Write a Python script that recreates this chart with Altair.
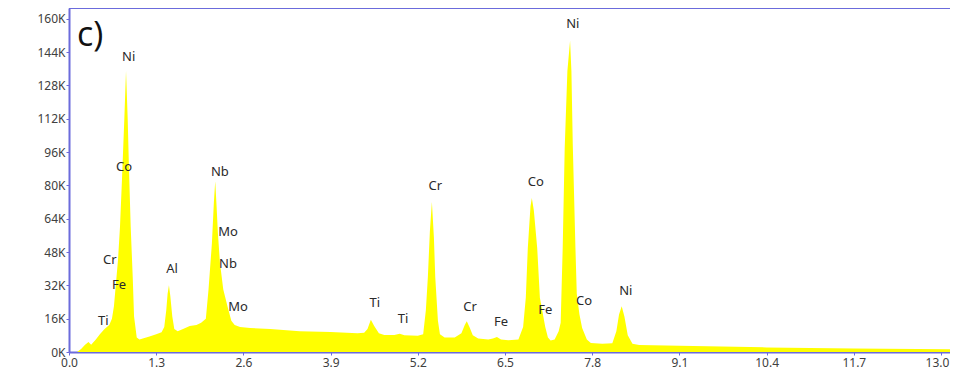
import altair as alt
import pandas as pd

# spectrum (energy keV, counts in thousands)
energy = [0.00, 0.12, 0.18, 0.24, 0.29, 0.33, 0.40, 0.46, 0.53, 0.60, 0.64, 0.67, 0.70, 0.73, 0.76,
          0.79, 0.825, 0.85, 0.875, 0.895, 0.92, 0.95, 0.97, 1.01, 1.05, 1.10, 1.20, 1.30, 1.38, 1.42,
          1.45, 1.47, 1.49, 1.51, 1.54, 1.57, 1.62, 1.70, 1.80, 1.90, 1.97, 2.04, 2.08, 2.13, 2.16,
          2.18, 2.20, 2.22, 2.25, 2.30, 2.37, 2.42, 2.47, 2.55, 2.70, 3.00, 3.44, 3.90, 4.30, 4.40,
          4.45, 4.50, 4.55, 4.62, 4.70, 4.85, 4.93, 5.00, 5.20, 5.28, 5.32, 5.35, 5.38, 5.41, 5.44,
          5.46, 5.50, 5.53, 5.60, 5.75, 5.85, 5.90, 5.93, 5.97, 6.02, 6.10, 6.25, 6.32, 6.38, 6.44,
          6.55, 6.70, 6.77, 6.81, 6.84, 6.88, 6.90, 6.93, 6.98, 7.02, 7.10, 7.14, 7.18, 7.24, 7.30,
          7.33, 7.36, 7.39, 7.43, 7.47, 7.49, 7.51, 7.55, 7.57, 7.61, 7.65, 7.72, 7.78, 7.95, 8.10,
          8.16, 8.20, 8.24, 8.28, 8.33, 8.40, 8.50, 9.10, 10.40, 11.70, 13.24]
kcounts = [0, 0, 1.5, 3.5, 4.8, 3.5, 6, 8.5, 11, 13, 16, 22, 33, 44, 60,
           83, 112, 135, 112, 87, 60, 36, 17, 7, 6, 6.5, 7.5, 8.5, 9.5, 12,
           20, 28, 32, 27, 17, 11, 10, 11, 12.5, 13, 14, 16, 30, 52, 72,
           82, 70, 57, 43, 30, 21, 15, 13, 12, 11.5, 11, 10, 9.6, 9, 9.2,
           11, 15.5, 12.5, 9, 8.2, 8.2, 8.8, 8, 7.8, 8.5, 20, 36, 58, 72, 55,
           36, 15, 8.5, 7, 7, 9, 13, 14.8, 12, 8, 6.5, 6, 6.5, 7.2, 6,
           5.7, 6, 12, 26, 50, 70, 74, 68, 50, 26, 12, 7, 5.5, 6, 10,
           14, 50, 98, 135, 149.5, 135, 100, 50, 28, 18, 11.5, 6, 4.3, 4, 4.2,
           10, 18, 22, 17, 8, 4, 3.4, 3, 2.2, 1.7, 1.3]

# peak labels
label_text = ["Ni", "Co", "Cr", "Fe", "Ti", "Al", "Nb", "Mo", "Nb", "Mo",
              "Ti", "Ti", "Cr", "Cr", "Fe", "Co", "Fe", "Ni", "Co", "Ni"]
label_energy = [0.89, 0.82, 0.61, 0.745, 0.51, 1.535, 2.25, 2.37, 2.37, 2.52,
                4.56, 4.98, 5.46, 5.98, 6.44, 6.96, 7.10, 7.51, 7.68, 8.30]
label_k = [141.5, 89, 44, 32, 14.8, 40, 86.5, 57.5, 42.5, 21.5,
           23.5, 16, 79.5, 21.5, 14.5, 81.5, 20, 157.5, 24.5, 29.5]

x_ticks = [0.0, 1.3, 2.6, 3.9, 5.2, 6.5, 7.8, 9.1, 10.4, 11.7, 13.0]
y_ticks = [0, 16, 32, 48, 64, 80, 96, 112, 128, 144, 160]

spec = pd.DataFrame({"energy": energy, "k": kcounts})
labels = pd.DataFrame({"label": label_text, "energy": label_energy, "k": label_k})

BLUE = "#6b6bdc"
W, H = 881, 344

xs = alt.Scale(domain=[0, 13.134], nice=False, zero=False)
ys = alt.Scale(domain=[0, 165.2], nice=False)

area = alt.Chart(spec).mark_area(color="#ffff00", interpolate="linear", opacity=1, clip=True).encode(
    x=alt.X("energy:Q", scale=xs,
            axis=alt.Axis(values=x_ticks, tickCount=len(x_ticks), format=".1f", title=None, grid=False,
                          domainColor=BLUE, domainWidth=2, tickColor=BLUE, tickSize=3,
                          labelFont="Noto Sans", labelFontSize=12, labelColor="#404040",
                          labelPadding=2, labelFlush=False, labelOverlap=False,
                          labelOffset={"condition": {"test": "datum.value >= 13", "value": -4},
                                       "value": 0})),
    y=alt.Y("k:Q", scale=ys,
            axis=alt.Axis(values=y_ticks, tickCount=len(y_ticks), labelExpr="datum.value + 'K'",
                          title=None, grid=False,
                          domainColor=BLUE, domainWidth=2, tickColor=BLUE, tickSize=3,
                          labelFont="Noto Sans", labelFontSize=12, labelColor="#404040",
                          labelPadding=1, labelOverlap=False)),
)

text = alt.Chart(labels).mark_text(font="Noto Sans", fontSize=13, color="#2a2a2a",
                                   align="center", baseline="middle").encode(
    x=alt.X("energy:Q", scale=xs),
    y=alt.Y("k:Q", scale=ys),
    text="label:N",
)

top = alt.Chart(pd.DataFrame({"a": [0]})).mark_rule(color=BLUE, strokeWidth=2).encode(
    x=alt.value(0), x2=alt.value(W), y=alt.value(0)
)

tag = alt.Chart(pd.DataFrame({"t": ["c)"]})).mark_text(
    font="Open Sans", fontSize=34, color="#111111", align="left", baseline="middle"
).encode(x=alt.value(8), y=alt.value(28), text="t:N")

chart = alt.layer(area, text, top, tag).properties(
    width=W, height=H,
    autosize=alt.AutoSizeParams(type="none"),
    padding={"left": 61, "top": 0, "right": 0, "bottom": 17},
).configure_view(stroke=None).configure(background="white")

chart.save("out.html", embed_options={"renderer": "svg", "actions": False})
